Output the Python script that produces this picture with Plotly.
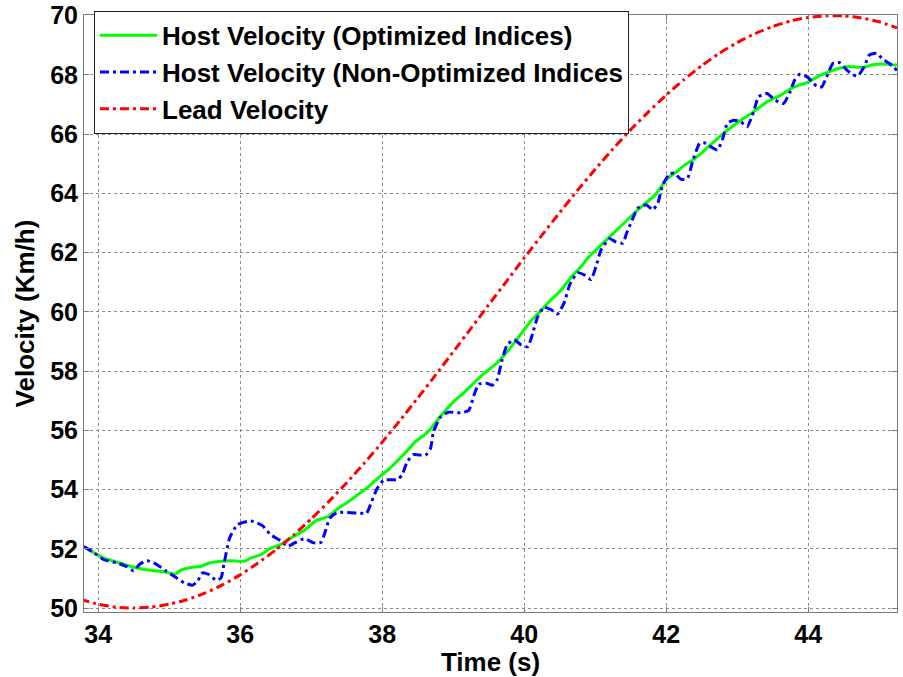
import plotly.graph_objects as go

# Host velocity (optimized indices) - green
t_green = [33.80, 34.08, 34.37, 34.65, 34.93, 35.09, 35.16, 35.31, 35.45, 35.56, 35.73, 35.87,
           36.06, 36.15, 36.29, 36.43, 36.57, 36.71, 36.90, 37.07, 37.24, 37.38, 37.50, 37.62,
           37.80, 37.99, 38.10, 38.22, 38.35, 38.46, 38.64, 38.83, 39.02, 39.14, 39.25, 39.39,
           39.50, 39.62, 39.74, 39.86, 39.97, 40.09, 40.21, 40.33, 40.52, 40.62, 40.71, 40.80,
           40.89, 41.08, 41.25, 41.45, 41.65, 41.84, 42.02, 42.14, 42.26, 42.37, 42.49, 42.67,
           42.86, 43.05, 43.23, 43.42, 43.60, 43.79, 43.98, 44.16, 44.30, 44.44, 44.58, 44.77,
           44.91, 45.05, 45.25]
v_green = [52.06, 51.69, 51.47, 51.30, 51.22, 51.15, 51.28, 51.37, 51.41, 51.52, 51.58, 51.60,
           51.58, 51.69, 51.80, 52.02, 52.14, 52.36, 52.62, 52.95, 53.09, 53.37, 53.55, 53.76,
           54.09, 54.49, 54.70, 54.99, 55.30, 55.60, 55.94, 56.50, 57.00, 57.25, 57.50, 57.83,
           58.05, 58.28, 58.60, 58.95, 59.30, 59.68, 59.98, 60.29, 60.74, 61.05, 61.30, 61.52,
           61.80, 62.25, 62.64, 63.10, 63.55, 63.94, 64.51, 64.72, 64.96, 65.12, 65.35, 65.74,
           66.13, 66.47, 66.75, 67.09, 67.30, 67.58, 67.74, 67.97, 68.11, 68.22, 68.28, 68.25,
           68.34, 68.37, 68.33]

# Host velocity (non-optimized indices) - blue
t_blue = [33.80, 33.95, 34.08, 34.27, 34.41, 34.50, 34.58, 34.69, 34.81, 34.95, 35.09, 35.21,
          35.33, 35.40, 35.47, 35.56, 35.66, 35.73, 35.77, 35.85, 35.96, 36.15, 36.31, 36.43,
          36.57, 36.67, 36.76, 36.90, 37.04, 37.14, 37.20, 37.26, 37.36, 37.69, 37.78, 37.85,
          37.93, 38.02, 38.21, 38.28, 38.35, 38.44, 38.61, 38.68, 38.72, 38.82, 38.93, 39.10,
          39.22, 39.29, 39.36, 39.47, 39.55, 39.62, 39.69, 39.76, 39.86, 39.95, 40.05, 40.12,
          40.19, 40.28, 40.38, 40.47, 40.56, 40.64, 40.75, 40.85, 40.94, 41.01, 41.08, 41.20,
          41.29, 41.39, 41.44, 41.52, 41.60, 41.72, 41.81, 41.88, 41.95, 42.05, 42.12, 42.21,
          42.30, 42.37, 42.47, 42.53, 42.63, 42.72, 42.79, 42.86, 42.95, 43.05, 43.14, 43.23,
          43.30, 43.42, 43.53, 43.65, 43.74, 43.81, 43.88, 43.98, 44.05, 44.12, 44.19, 44.26,
          44.35, 44.44, 44.54, 44.63, 44.70, 44.79, 44.86, 44.96, 45.05, 45.14, 45.25]
v_blue = [52.08, 51.85, 51.63, 51.52, 51.39, 51.26, 51.47, 51.60, 51.49, 51.26, 51.04, 50.85,
          50.77, 50.91, 51.19, 51.13, 50.94, 51.02, 51.47, 52.36, 52.81, 52.94, 52.79, 52.47,
          52.27, 52.08, 52.19, 52.34, 52.20, 52.22, 52.60, 53.03, 53.22, 53.20, 53.20, 53.59,
          54.04, 54.32, 54.34, 54.49, 54.93, 55.18, 55.16, 55.38, 55.94, 56.44, 56.61, 56.59,
          56.67, 57.17, 57.56, 57.59, 57.52, 57.72, 58.39, 58.89, 59.06, 58.89, 58.82, 59.28,
          59.84, 60.16, 60.07, 59.93, 60.29, 60.91, 61.32, 61.24, 61.09, 61.52, 62.08, 62.47,
          62.36, 62.32, 62.64, 63.10, 63.50, 63.61, 63.44, 63.66, 64.28, 64.67, 64.67, 64.47,
          64.51, 65.07, 65.69, 65.71, 65.57, 65.46, 65.80, 66.36, 66.47, 66.42, 66.25, 66.75,
          67.26, 67.37, 67.15, 67.03, 67.40, 67.83, 68.02, 67.94, 67.78, 67.61, 67.59, 67.94,
          68.39, 68.41, 68.17, 68.00, 67.97, 68.28, 68.67, 68.73, 68.53, 68.39, 68.15]

# Lead velocity - red
t_red = [33.75, 34.00, 34.25, 34.50, 34.75, 35.00, 35.25, 35.50, 35.75, 36.00, 36.25, 36.50,
         36.75, 37.00, 37.25, 37.50, 37.75, 38.00, 38.25, 38.50, 38.75, 39.00, 39.25, 39.50,
         39.75, 40.00, 40.25, 40.50, 40.75, 41.00, 41.25, 41.50, 41.75, 42.00, 42.25, 42.50,
         42.75, 43.00, 43.25, 43.50, 43.75, 44.00, 44.25, 44.50, 44.75, 45.00, 45.25]
v_red = [50.29, 50.13, 50.03, 50.00, 50.03, 50.13, 50.28, 50.50, 50.78, 51.12, 51.52, 51.96,
         52.46, 53.01, 53.60, 54.23, 54.90, 55.60, 56.33, 57.09, 57.86, 58.65, 59.44, 60.24,
         61.03, 61.82, 62.59, 63.35, 64.10, 64.81, 65.50, 66.15, 66.75, 67.32, 67.84, 68.31,
         68.73, 69.09, 69.39, 69.63, 69.82, 69.94, 69.99, 69.99, 69.92, 69.79, 69.59]

x_ticks = [34, 36, 38, 40, 42, 44]
y_ticks = [50, 52, 54, 56, 58, 60, 62, 64, 66, 68, 70]

FONT = "Liberation Sans, Arial, Helvetica, sans-serif"
DASHDOT = "9px,4px,3px,4px"

fig = go.Figure()
fig.add_trace(go.Scatter(x=t_green, y=v_green, mode="lines",
                         name="Host Velocity (Optimized Indices)",
                         line=dict(color="#00ff00", width=3, shape="spline", smoothing=0.5)))
fig.add_trace(go.Scatter(x=t_blue, y=v_blue, mode="lines",
                         name="Host Velocity (Non-Optimized Indices",
                         line=dict(color="#0000ff", width=3, dash=DASHDOT, shape="spline", smoothing=0.5)))
fig.add_trace(go.Scatter(x=t_red, y=v_red, mode="lines",
                         name="Lead Velocity",
                         line=dict(color="#ff0000", width=3, dash=DASHDOT, shape="spline", smoothing=0.5)))

axis_common = dict(
    showline=True, linecolor="#7a7a7a", linewidth=1, mirror="allticks",
    ticks="inside", ticklen=5, tickcolor="#7a7a7a",
    showgrid=True, gridcolor="#8c8c8c", griddash="dot", gridwidth=1,
    zeroline=False, ticklabeloverflow="allow", automargin=False,
    tickfont=dict(family=FONT, size=25, color="black", weight="bold"),
)

fig.update_xaxes(range=[33.8, 45.25], tickvals=x_ticks,
                 title=dict(text="Time (s)", font=dict(family=FONT, size=26, color="black", weight="bold"),
                            standoff=1),
                 **axis_common)
fig.update_yaxes(range=[49.866, 70.02], tickvals=y_ticks,
                 title=dict(text="Velocity (Km/h)", font=dict(family=FONT, size=26, color="black", weight="bold"),
                            standoff=8),
                 **axis_common)

fig.update_layout(
    width=903, height=677,
    margin=dict(l=84, r=6, t=15, b=65, autoexpand=False),
    paper_bgcolor="white", plot_bgcolor="white",
    showlegend=True,
    legend=dict(x=0.0123, y=1.007, xanchor="left", yanchor="top",
                bgcolor="white", bordercolor="#222222", borderwidth=1,
                font=dict(family=FONT, size=26, color="black", weight="bold"),
                itemwidth=57, tracegroupgap=0),
)

fig.write_html("out.html")
